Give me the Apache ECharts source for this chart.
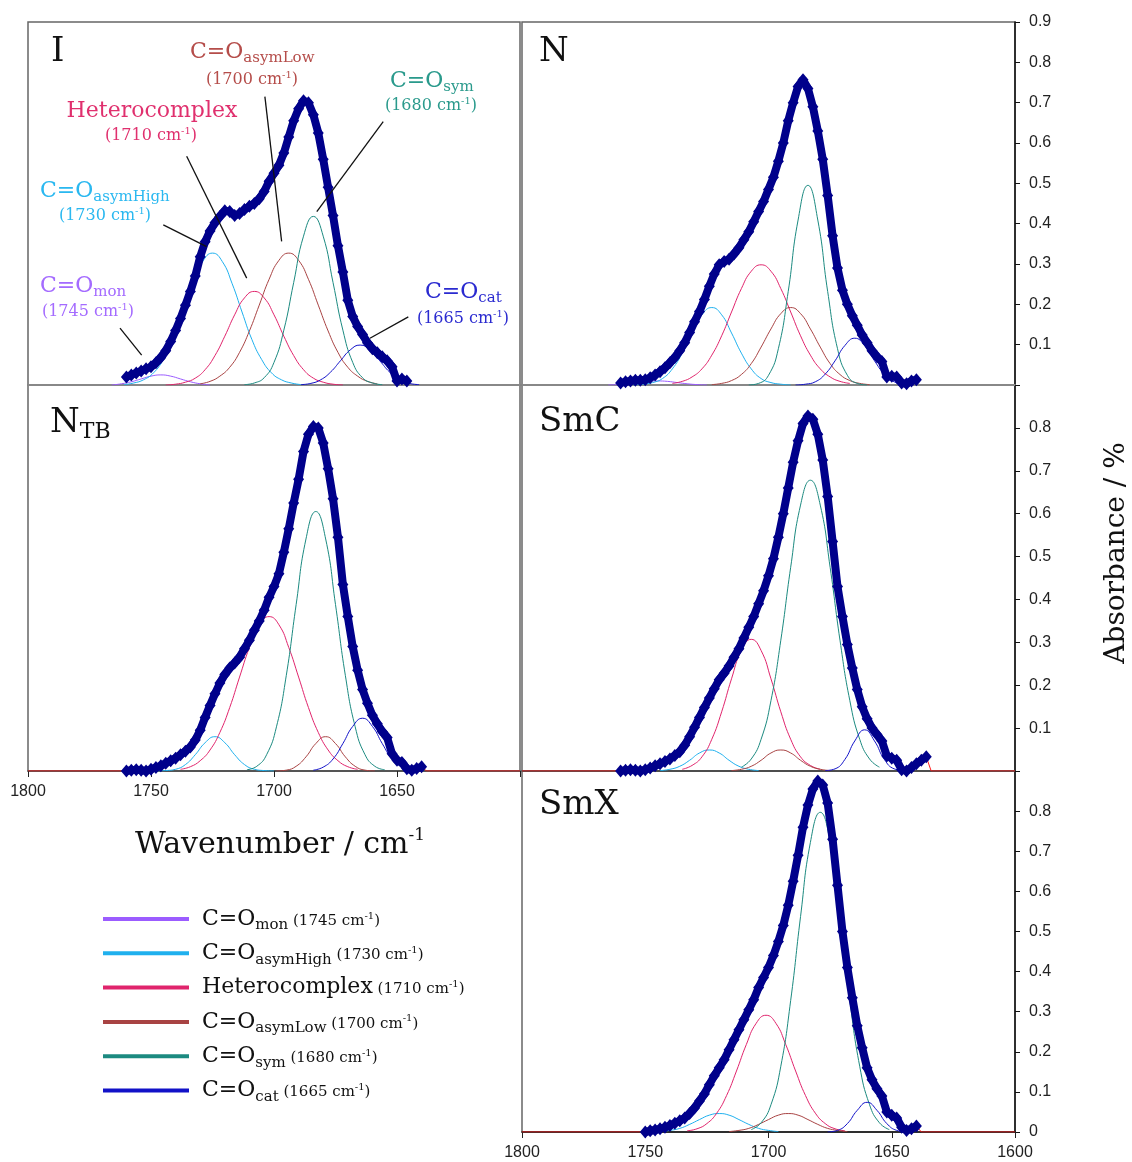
<!DOCTYPE html>
<html>
<head>
<meta charset="utf-8">
<title>C=O band deconvolution</title>
<script src="https://cdn.jsdelivr.net/npm/echarts@6/dist/echarts.min.js"></script>
<style>
html, body { margin: 0; padding: 0; background: #fff; }
#chart { width: 1132px; height: 1162px; }
</style>
</head>
<body>
<div id="chart"></div>
<script>
// wavenumber grid of the measured spectra (cm-1)
var wn = [1760,1758,1756,1754,1752,1750,1748,1746,1744,1742,1740,1738,1736,1734,1732,1730,1728,1726,1724,1722,
  1720,1718,1716,1714,1712,1710,1708,1706,1704,1702,1700,1698,1696,1694,1692,1690,1688,1686,1684,1682,
  1680,1678,1676,1674,1672,1670,1668,1666,1664,1662,1660,1658,1656,1654,1652,1650,1648,1646,1644,1642,
  1640,1638,1636];

// measured absorbance per phase
var absI = [0.02,0.025,0.03,0.035,0.04,0.045,0.055,0.068,0.085,0.108,0.135,0.165,0.198,0.232,0.27,0.318,0.355,0.382,0.402,0.418,
  0.432,0.43,0.42,0.425,0.435,0.443,0.45,0.462,0.48,0.505,0.525,0.545,0.575,0.615,0.655,0.685,0.705,0.70,0.67,0.625,
  0.56,0.49,0.42,0.345,0.28,0.21,0.17,0.145,0.125,0.105,0.09,0.08,0.07,0.06,0.045,0.01,0.015,0.01,null,null,
  null,null,null];
var absN = [0.005,0.008,0.01,0.012,0.012,0.013,0.018,0.025,0.033,0.043,0.055,0.068,0.085,0.105,0.13,0.157,0.182,0.212,0.245,0.275,
  0.298,0.306,0.312,0.325,0.34,0.36,0.38,0.405,0.43,0.455,0.485,0.515,0.555,0.6,0.655,0.70,0.74,0.757,0.735,0.69,
  0.63,0.56,0.47,0.37,0.29,0.235,0.2,0.172,0.148,0.124,0.105,0.085,0.07,0.058,0.02,0.022,0.02,0.005,0.003,0.01,
  0.013,null,null];
var absNTB = [0,0.002,0.003,0.002,0,0.004,0.008,0.012,0.018,0.024,0.03,0.038,0.046,0.056,0.072,0.095,0.125,0.153,0.18,0.205,
  0.225,0.24,0.252,0.265,0.285,0.305,0.328,0.35,0.375,0.405,0.43,0.46,0.51,0.565,0.625,0.68,0.745,0.785,0.803,0.8,
  0.765,0.705,0.635,0.545,0.435,0.36,0.29,0.235,0.19,0.158,0.13,0.11,0.092,0.078,0.04,0.025,0.02,0.005,0.002,0.006,
  0.01,null,null];
var absSmC = [0,0.002,0.003,0.002,0,0.003,0.007,0.012,0.017,0.022,0.028,0.036,0.045,0.06,0.08,0.102,0.125,0.148,0.17,0.192,
  0.213,0.228,0.245,0.265,0.285,0.31,0.335,0.36,0.39,0.42,0.455,0.495,0.545,0.6,0.66,0.72,0.77,0.81,0.828,0.82,
  0.785,0.725,0.64,0.535,0.43,0.36,0.295,0.24,0.19,0.15,0.122,0.1,0.085,0.07,0.035,0.03,0.025,0.003,0,0.008,
  0.017,0.025,0.033];
var absSmX = [null,null,null,null,null,0,0.003,0.005,0.008,0.012,0.016,0.022,0.028,0.035,0.046,0.06,0.077,0.095,0.118,0.14,
  0.16,0.18,0.205,0.23,0.255,0.28,0.305,0.33,0.36,0.385,0.41,0.44,0.475,0.515,0.565,0.625,0.69,0.76,0.815,0.855,
  0.875,0.865,0.82,0.73,0.615,0.5,0.41,0.335,0.265,0.21,0.16,0.13,0.108,0.09,0.05,0.042,0.035,0.012,0.004,0.008,
  0.015,null,null];

// fitted components [wavenumber, absorbance]
var monI = [[1766,0],[1762,0.003],[1758,0.008],[1754,0.015],[1750,0.022],[1746,0.025],[1742,0.022],[1738,0.015],[1734,0.008],[1730,0.003],[1726,0]];
var highI = [[1761,0.001],[1757,0.005],[1753,0.013],[1749,0.03],[1745,0.063],[1741,0.113],[1737,0.181],[1733,0.251],[1729,0.306],[1725,0.327],[1721,0.306],[1717,0.251],[1713,0.181],[1709,0.113],[1705,0.063],[1701,0.03],[1697,0.013],[1693,0.005],[1689,0.001]];
var hetI = [[1744,0],[1740,0.002],[1736,0.007],[1732,0.017],[1728,0.038],[1724,0.073],[1720,0.121],[1716,0.174],[1712,0.216],[1708,0.232],[1704,0.216],[1700,0.174],[1696,0.121],[1692,0.073],[1688,0.038],[1684,0.017],[1680,0.007],[1676,0.002],[1672,0]];
var lowI = [[1730,0.003],[1726,0.009],[1722,0.022],[1718,0.044],[1714,0.081],[1710,0.134],[1706,0.198],[1702,0.262],[1698,0.309],[1694,0.327],[1690,0.309],[1686,0.262],[1682,0.198],[1678,0.134],[1674,0.081],[1670,0.044],[1666,0.022],[1662,0.009],[1658,0.003]];
var symI = [[1712,0.001],[1708,0.005],[1704,0.018],[1700,0.056],[1696,0.136],[1692,0.254],[1688,0.369],[1684,0.418],[1680,0.369],[1676,0.254],[1672,0.136],[1668,0.056],[1664,0.018],[1660,0.005],[1656,0.001]];
var catI = [[1689,0.001],[1685,0.004],[1681,0.013],[1677,0.032],[1673,0.06],[1669,0.087],[1665,0.099],[1661,0.087],[1657,0.06],[1653,0.032],[1649,0.013],[1645,0.004],[1641,0.001]];

var monN = [[1765,0],[1761,0.001],[1757,0.003],[1753,0.006],[1749,0.009],[1745,0.01],[1741,0.009],[1737,0.006],[1733,0.003],[1729,0.001],[1725,0]];
var highN = [[1755,0],[1751,0.002],[1747,0.006],[1743,0.016],[1739,0.04],[1735,0.079],[1731,0.129],[1727,0.174],[1723,0.192],[1719,0.174],[1715,0.129],[1711,0.079],[1707,0.04],[1703,0.016],[1699,0.006],[1695,0.002],[1691,0]];
var hetN = [[1739,0.004],[1735,0.009],[1731,0.02],[1727,0.04],[1723,0.074],[1719,0.122],[1715,0.181],[1711,0.239],[1707,0.282],[1703,0.298],[1699,0.282],[1695,0.239],[1691,0.181],[1687,0.122],[1683,0.074],[1679,0.04],[1675,0.02],[1671,0.009],[1667,0.004]];
var lowN = [[1723,0.001],[1719,0.004],[1715,0.011],[1711,0.026],[1707,0.053],[1703,0.094],[1699,0.139],[1695,0.177],[1691,0.192],[1687,0.177],[1683,0.139],[1679,0.094],[1675,0.053],[1671,0.026],[1667,0.011],[1663,0.004],[1659,0.001]];
var symN = [[1708,0],[1704,0.004],[1700,0.024],[1696,0.09],[1692,0.232],[1688,0.409],[1684,0.495],[1680,0.409],[1676,0.232],[1672,0.09],[1668,0.024],[1664,0.004],[1660,0]];
var catN = [[1689,0],[1685,0.002],[1681,0.008],[1677,0.027],[1673,0.06],[1669,0.098],[1665,0.116],[1661,0.098],[1657,0.06],[1653,0.027],[1649,0.008],[1645,0.002],[1641,0]];

var highNTB = [[1748,0],[1744,0.001],[1740,0.004],[1736,0.015],[1732,0.038],[1728,0.066],[1724,0.08],[1720,0.066],[1716,0.038],[1712,0.015],[1708,0.004],[1704,0.001],[1700,0]];
var hetNTB = [[1738,0.004],[1734,0.01],[1730,0.024],[1726,0.049],[1722,0.09],[1718,0.148],[1714,0.219],[1710,0.288],[1706,0.341],[1702,0.36],[1698,0.341],[1694,0.288],[1690,0.219],[1686,0.148],[1682,0.09],[1678,0.049],[1674,0.024],[1670,0.01],[1666,0.004]];
var lowNTB = [[1699,0],[1695,0.002],[1691,0.011],[1687,0.033],[1683,0.064],[1679,0.08],[1675,0.064],[1671,0.033],[1667,0.011],[1663,0.002],[1659,0]];
var symNTB = [[1711,0.003],[1707,0.011],[1703,0.038],[1699,0.103],[1695,0.223],[1691,0.388],[1687,0.541],[1683,0.605],[1679,0.541],[1675,0.388],[1671,0.223],[1667,0.103],[1663,0.038],[1659,0.011],[1655,0.003]];
var catNTB = [[1684,0.002],[1680,0.009],[1676,0.028],[1672,0.064],[1668,0.104],[1664,0.123],[1660,0.104],[1656,0.064],[1652,0.028],[1648,0.009],[1644,0.002]];

var highSmC = [[1744,0.001],[1740,0.004],[1736,0.011],[1732,0.025],[1728,0.042],[1724,0.049],[1720,0.042],[1716,0.025],[1712,0.011],[1708,0.004],[1704,0.001]];
var hetSmC = [[1735,0.004],[1731,0.013],[1727,0.033],[1723,0.074],[1719,0.138],[1715,0.215],[1711,0.281],[1707,0.307],[1703,0.281],[1699,0.215],[1695,0.138],[1691,0.074],[1687,0.033],[1683,0.013],[1679,0.004]];
var lowSmC = [[1715,0.001],[1711,0.004],[1707,0.011],[1703,0.025],[1699,0.042],[1695,0.049],[1691,0.042],[1687,0.025],[1683,0.011],[1679,0.004],[1675,0.001]];
var symSmC = [[1711,0.009],[1707,0.028],[1703,0.074],[1699,0.164],[1695,0.305],[1691,0.475],[1687,0.62],[1683,0.678],[1679,0.62],[1675,0.475],[1671,0.305],[1667,0.164],[1663,0.074],[1659,0.028],[1655,0.009]];
var catSmC = [[1677,0.001],[1673,0.005],[1669,0.027],[1665,0.07],[1661,0.096],[1657,0.07],[1653,0.027],[1649,0.005],[1645,0.001]];

var highSmX = [[1744,0.001],[1740,0.004],[1736,0.009],[1732,0.019],[1728,0.031],[1724,0.042],[1720,0.046],[1716,0.042],[1712,0.031],[1708,0.019],[1704,0.009],[1700,0.004],[1696,0.001]];
var hetSmX = [[1733,0.003],[1729,0.008],[1725,0.021],[1721,0.047],[1717,0.091],[1713,0.152],[1709,0.218],[1705,0.271],[1701,0.291],[1697,0.271],[1693,0.218],[1689,0.152],[1685,0.091],[1681,0.047],[1677,0.021],[1673,0.008],[1669,0.003]];
var lowSmX = [[1716,0.001],[1712,0.004],[1708,0.009],[1704,0.019],[1700,0.031],[1696,0.042],[1692,0.046],[1688,0.042],[1684,0.031],[1680,0.019],[1676,0.009],[1672,0.004],[1668,0.001]];
var symSmX = [[1707,0.006],[1703,0.023],[1699,0.068],[1695,0.164],[1691,0.328],[1687,0.537],[1683,0.722],[1679,0.797],[1675,0.722],[1671,0.537],[1667,0.328],[1663,0.164],[1659,0.068],[1655,0.023],[1651,0.006]];
var catSmX = [[1676,0],[1672,0.004],[1668,0.021],[1664,0.054],[1660,0.074],[1656,0.054],[1652,0.021],[1648,0.004],[1644,0]];

// component names and peak positions
var compKeys = ['mon', 'asymHigh', 'Heterocomplex', 'asymLow', 'sym', 'cat'];
var compPeak = ['1745', '1730', '1710', '1700', '1680', '1665'];
var panelNames = ['I', 'N', 'NTB', 'SmC', 'SmX'];

// arrows of the annotations in panel I  [[from],[to]]
var arrowsI = [
  [[1762.6, 0.141], [1753.8, 0.074]],
  [[1745.0, 0.397], [1727.4, 0.343]],
  [[1735.5, 0.567], [1711.1, 0.265]],
  [[1703.7, 0.715], [1696.9, 0.356]],
  [[1655.6, 0.653], [1682.6, 0.430]],
  [[1645.4, 0.169], [1661.0, 0.116]]
];

var SERIF = '"DejaVu Serif", serif';
var SANS = '"Liberation Sans", Arial, sans-serif';
var compColor = ['#9b5cff', '#1fb0ee', '#e0246c', '#a84343', '#1c8a80', '#1212c8'];
var annColor = ['#a46bff', '#2ab8f0', '#e0306e', '#b54d4a', '#2a9a8c', '#2a2ad0'];

var chart = echarts.init(document.getElementById('chart'));

// fitEnd: where the fitted envelope reaches the baseline on the right (null = no baseline padding)
var panels = [
  {abs: absI, comps: [monI, highI, hetI, lowI, symI, catI], fitEnd: null},
  {abs: absN, comps: [monN, highN, hetN, lowN, symN, catN], fitEnd: null},
  {abs: absNTB, comps: [[], highNTB, hetNTB, lowNTB, symNTB, catNTB], fitEnd: 1638},
  {abs: absSmC, comps: [[], highSmC, hetSmC, lowSmC, symSmC, catSmC], fitEnd: 1634},
  {abs: absSmX, comps: [[], highSmX, hetSmX, lowSmX, symSmX, catSmX], fitEnd: 1638}
];

var grids = [
  {left: 28, top: 22, width: 492, height: 363},
  {left: 522, top: 22, width: 493, height: 363},
  {left: 28, top: 385, width: 492, height: 386},
  {left: 522, top: 385, width: 493, height: 386},
  {left: 522, top: 771, width: 493, height: 361}
];
grids.forEach(function (g) {
  g.show = true; g.borderColor = '#666'; g.borderWidth = 1.5; g.containLabel = false;
});

var xAxes = grids.map(function (g, i) {
  var withLabels = (i === 2 || i === 4);
  var lineCol = i < 2 ? '#888' : (i === 4 ? '#111' : '#444');
  return {
    type: 'value', gridIndex: i, min: 1600, max: 1800, interval: 50, inverse: true,
    axisLine: {show: true, lineStyle: {color: lineCol, width: i < 2 ? 2 : 1.5}},
    axisTick: {show: withLabels, inside: false, length: 6, lineStyle: {color: '#222'}},
    splitLine: {show: false},
    axisLabel: {
      show: withLabels, margin: 13,
      color: '#222', fontFamily: SANS, fontSize: 16,
      formatter: function (v) { return (i === 2 && v === 1600) ? '' : String(v); }
    }
  };
});

var yAxes = grids.map(function (g, i) {
  var right = (i === 1 || i === 3 || i === 4);
  return {
    type: 'value', gridIndex: i, min: 0, max: 0.9, interval: 0.1,
    position: 'right', show: right,
    axisLine: {show: true, lineStyle: {color: '#111', width: 1.5}},
    axisTick: {show: true, inside: false, length: 5, lineStyle: {color: '#111'}},
    splitLine: {show: false},
    axisLabel: {
      margin: 14, color: '#222', fontFamily: SANS, fontSize: 16,
      formatter: function (v) {
        if (v > 0.85 && i !== 1) return '';
        if (v < 0.05 && i !== 4) return '';
        return v < 0.05 ? '0' : v.toFixed(1);
      }
    }
  };
});

var series = [];
panels.forEach(function (p, i) {
  p.comps.forEach(function (c, k) {
    series.push({
      name: compKeys[k], type: 'line', xAxisIndex: i, yAxisIndex: i,
      data: c, smooth: true, showSymbol: false, color: compColor[k],
      lineStyle: {width: 1, color: compColor[k]}, z: 2, silent: true
    });
  });
  var pts = [];
  wn.forEach(function (w, j) { if (p.abs[j] != null) pts.push([w, p.abs[j]]); });
  var fit = p.fitEnd ? [[1800, 0]].concat(pts, [[p.fitEnd, 0], [1600, 0]]) : pts;
  var fitSeries = {
    name: 'fit', type: 'line', xAxisIndex: i, yAxisIndex: i, data: fit,
    showSymbol: false, lineStyle: {width: 1, color: '#ff1a1a'}, z: 3, silent: true
  };
  if (i === 0) {
    fitSeries.markLine = {
      silent: true, symbol: ['none', 'arrow'], symbolSize: [0, 11],
      label: {show: false},
      lineStyle: {color: '#111', width: 1.3, type: 'solid'},
      data: arrowsI.map(function (a) { return [{coord: a[0]}, {coord: a[1]}]; })
    };
  }
  series.push(fitSeries);
  series.push({
    name: 'data', type: 'line', xAxisIndex: i, yAxisIndex: i, data: pts,
    symbol: 'diamond', symbolSize: [11, 13], showAllSymbol: true,
    lineStyle: {width: 8, color: '#00008b'}, itemStyle: {color: '#00008b'},
    z: 4, silent: true
  });
});

// rich text pieces
var richTop = {
  m: {fontFamily: SERIF, fontSize: 22, lineHeight: 28},
  s: {fontFamily: SERIF, fontSize: 15, lineHeight: 10, verticalAlign: 'bottom'}
};
var richPar = {
  p: {fontFamily: SERIF, fontSize: 16, lineHeight: 20},
  u: {fontFamily: SERIF, fontSize: 10, lineHeight: 13, verticalAlign: 'top'}
};
function mainText(k) {
  return k === 2 ? '{m|Heterocomplex}' : '{m|C=O}{s|' + compKeys[k] + '}';
}
function parText(k) {
  return '{p|(' + compPeak[k] + ' cm}{u|-1}{p|)}';
}

// annotation placement in panel I: first line (left x or centre x, centre y), second line (centre x, centre y)
var annPos = [
  [40, 286, 88, 312],
  [40, 191, 105, 216],
  [152, 111, 151, 136],
  [190, 52, 252, 80],
  [390, 81, 431, 106],
  [425, 292, 463, 319]
];

var graphics = [];
annPos.forEach(function (a, k) {
  graphics.push({
    type: 'text', x: a[0], y: a[1], silent: true,
    style: {text: mainText(k), rich: richTop, fill: annColor[k],
      align: k === 2 ? 'center' : 'left', textAlign: k === 2 ? 'center' : 'left',
      verticalAlign: 'middle', textVerticalAlign: 'middle'}
  });
  graphics.push({
    type: 'text', x: a[2], y: a[3], silent: true,
    style: {text: parText(k), rich: richPar, fill: annColor[k],
      align: 'center', textAlign: 'center', verticalAlign: 'middle', textVerticalAlign: 'middle'}
  });
});

// panel titles
var titleRich = {
  a: {fontFamily: SERIF, fontSize: 34, lineHeight: 40},
  b: {fontFamily: SERIF, fontSize: 22, lineHeight: 22, verticalAlign: 'bottom'}
};
var titlePos = [[51, 52], [539, 52], [50, 423], [539, 422], [539, 805]];
panelNames.forEach(function (n, i) {
  var txt = n === 'NTB' ? '{a|N}{b|TB}' : '{a|' + n + '}';
  graphics.push({
    type: 'text', x: titlePos[i][0], y: titlePos[i][1], silent: true,
    style: {text: txt, rich: titleRich, fill: '#111', align: 'left', textAlign: 'left',
      verticalAlign: 'middle', textVerticalAlign: 'middle'}
  });
});

// axis titles
graphics.push({
  type: 'text', x: 280, y: 845, silent: true,
  style: {text: '{w|Wavenumber / cm}{u|-1}', fill: '#111',
    rich: {w: {fontFamily: SERIF, fontSize: 30, lineHeight: 36},
           u: {fontFamily: SERIF, fontSize: 17, lineHeight: 22, verticalAlign: 'top'}},
    align: 'center', textAlign: 'center', verticalAlign: 'middle', textVerticalAlign: 'middle'}
});
graphics.push({
  type: 'text', x: 1117, y: 553, rotation: Math.PI / 2, silent: true,
  style: {text: 'Absorbance / %', fill: '#111', font: '28px ' + SERIF,
    fontFamily: SERIF, fontSize: 28,
    align: 'center', textAlign: 'center', verticalAlign: 'middle', textVerticalAlign: 'middle'}
});

var legendRich = {
  m: {fontFamily: SERIF, fontSize: 22, lineHeight: 28, color: '#111'},
  s: {fontFamily: SERIF, fontSize: 15, lineHeight: 10, verticalAlign: 'bottom', color: '#111'},
  p: {fontFamily: SERIF, fontSize: 15, padding: [4, 0, 0, 0], color: '#111'},
  u: {fontFamily: SERIF, fontSize: 10, padding: [0, 0, 6, 0], color: '#111'}
};

chart.setOption({
  animation: false,
  backgroundColor: '#fff',
  grid: grids,
  xAxis: xAxes,
  yAxis: yAxes,
  legend: {
    orient: 'vertical', left: 103, top: 905, padding: 0,
    itemWidth: 86, itemHeight: 4, itemGap: 6.3, icon: 'rect',
    selectedMode: false,
    data: compKeys,
    formatter: function (name) {
      var k = compKeys.indexOf(name);
      return mainText(k) + '{p| (' + compPeak[k] + ' cm}{u|-1}{p|)}';
    },
    textStyle: {rich: legendRich, padding: [0, 0, 0, 8], height: 28, lineHeight: 28}
  },
  series: series,
  graphic: graphics
});
</script>
</body>
</html>
